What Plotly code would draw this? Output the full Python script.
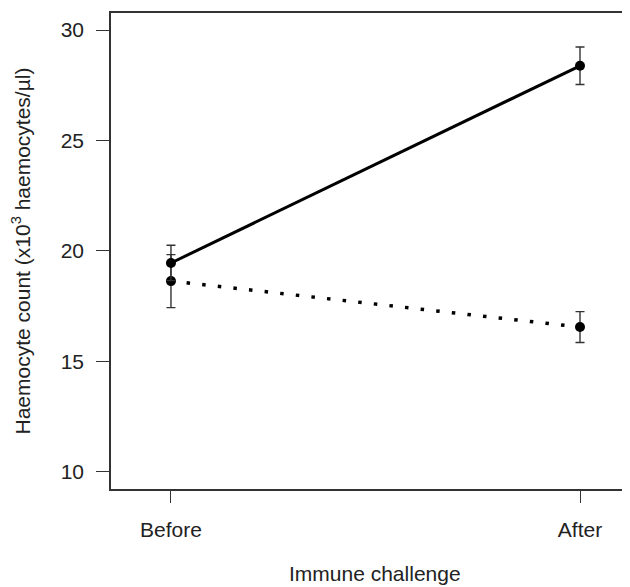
import plotly.graph_objects as go

# haemocyte counts before / after an immune challenge
categories = ["Before", "After"]
solid_means = [19.45, 28.38]
solid_err = [0.80, 0.85]
dotted_means = [18.63, 16.55]
dotted_err = [1.20, 0.70]
y_ticks = [10, 15, 20, 25, 30]

ink = "#222222"
fig = go.Figure()

# dotted group
fig.add_trace(go.Scatter(
    x=categories, y=dotted_means,
    mode="lines+markers",
    line=dict(color="black", width=3.5, dash="3.5px,12.2px"),
    marker=dict(color="black", size=10),
    error_y=dict(type="data", array=dotted_err, visible=True,
                 color="#333333", thickness=1.4, width=4.5),
))

# solid group
fig.add_trace(go.Scatter(
    x=categories, y=solid_means,
    mode="lines+markers",
    line=dict(color="black", width=3),
    marker=dict(color="black", size=10),
    error_y=dict(type="data", array=solid_err, visible=True,
                 color="#333333", thickness=1.4, width=4.5),
))

# axis titles as annotations (plot is cropped at the right edge)
fig.add_annotation(
    x=0.5095, y=-0.178, xref="paper", yref="paper",
    text="Immune challenge", showarrow=False,
    xanchor="center", yanchor="middle",
    font=dict(size=21, color=ink),
)
fig.add_annotation(
    x=-0.1725, y=0.5, xref="paper", yref="paper",
    text="Haemocyte count (x10<sup>3</sup> haemocytes/µl)", showarrow=False,
    textangle=-90, xanchor="center", yanchor="middle",
    font=dict(size=21, color=ink),
)

# page body adds an 8px offset, so the figure is 8px smaller on each side
fig.update_layout(
    width=622, height=579,
    margin=dict(l=103, r=0, t=5, b=98),
    paper_bgcolor="white", plot_bgcolor="white",
    showlegend=False,
    font=dict(family="Liberation Sans, Arial, sans-serif", size=21, color=ink),
    xaxis=dict(
        type="category", range=[-0.1466, 1.1222],
        showgrid=False, zeroline=False,
        showline=True, linecolor="#333333", linewidth=1.5, mirror=True,
        ticks="outside", ticklen=12, tickwidth=1.4, tickcolor="#333333",
        ticklabelstandoff=9,
    ),
    yaxis=dict(
        range=[9.216, 30.77],
        tickvals=y_ticks,
        showgrid=False, zeroline=False,
        showline=True, linecolor="#333333", linewidth=1.5,
        ticks="outside", ticklen=13, tickwidth=1.4, tickcolor="#333333",
        ticklabelstandoff=8,
    ),
)

fig.write_html("out.html")
